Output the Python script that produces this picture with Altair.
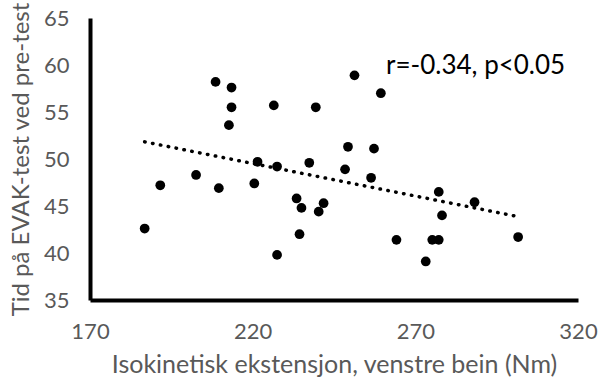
import altair as alt
import pandas as pd

strength = [208.6, 213.5, 213.5, 226.5, 239.4, 212.7, 221.5, 227.5, 237.4, 202.6,
            191.6, 209.6, 220.5, 233.5, 235.0, 241.8, 240.3, 234.4, 227.5, 186.8,
            251.3, 259.4, 249.3, 257.3, 248.4, 256.4, 277.2, 288.2, 278.2, 264.2,
            275.2, 277.2, 273.2, 301.6]
evak = [58.2, 57.6, 55.5, 55.7, 55.5, 53.6, 49.7, 49.2, 49.6, 48.3,
        47.2, 46.9, 47.4, 45.8, 44.8, 45.3, 44.4, 42.0, 39.8, 42.6,
        58.9, 57.0, 51.3, 51.1, 48.9, 48.0, 46.5, 45.4, 44.0, 41.4,
        41.4, 41.4, 39.1, 41.7]
annotation = ["r=-0.34, p<0.05"]

df = pd.DataFrame({"x": strength, "y": evak})
FONT = "Lato"
GRAY = "#595959"

xscale = alt.Scale(domain=[170, 320], nice=False, zero=False)
yscale = alt.Scale(domain=[35, 65], nice=False, zero=False)

base = alt.Chart(df)

points = base.mark_circle(size=95, color="black", opacity=1).encode(
    x=alt.X("x:Q", scale=xscale,
            axis=alt.Axis(title="Isokinetisk ekstensjon, venstre bein (Nm)",
                          values=[170, 220, 270, 320], grid=False, ticks=False,
                          labelFlush=False, labelOverlap=False,
                          domainColor="black", domainWidth=4,
                          labelFont=FONT, labelFontSize=22, labelColor=GRAY,
                          labelPadding=21, titleFont=FONT, titleFontSize=25,
                          titleFontWeight="normal", titleColor=GRAY,
                          titlePadding=10)),
    y=alt.Y("y:Q", scale=yscale,
            axis=alt.Axis(title="Tid på EVAK-test ved pre-test",
                          values=[35, 40, 45, 50, 55, 60, 65], grid=False, ticks=False,
                          labelFlush=False, labelOverlap=False,
                          domainColor="black", domainWidth=4,
                          labelFont=FONT, labelFontSize=22, labelColor=GRAY,
                          labelPadding=21, titleFont=FONT, titleFontSize=24,
                          titleFontWeight="normal", titleColor=GRAY,
                          titlePadding=10)),
)

trend = base.transform_regression("x", "y").mark_line(
    color="black", strokeWidth=3.5, strokeDash=[0.5, 7.5], strokeCap="round"
).encode(x=alt.X("x:Q", scale=xscale), y=alt.Y("y:Q", scale=yscale))

text = alt.Chart(pd.DataFrame({"t": annotation})).mark_text(
    align="left", baseline="middle", font=FONT, fontSize=26, color="black"
).encode(text="t:N", x=alt.value(296), y=alt.value(48))

chart = alt.layer(trend, points, text).properties(
    width=488, height=282,
    autosize=alt.AutoSizeParams(type="none"),
    padding={"left": 90, "top": 18, "right": 22, "bottom": 90},
).configure_view(stroke=None)

chart.save("out.html", embed_options={"renderer": "svg", "actions": False})
